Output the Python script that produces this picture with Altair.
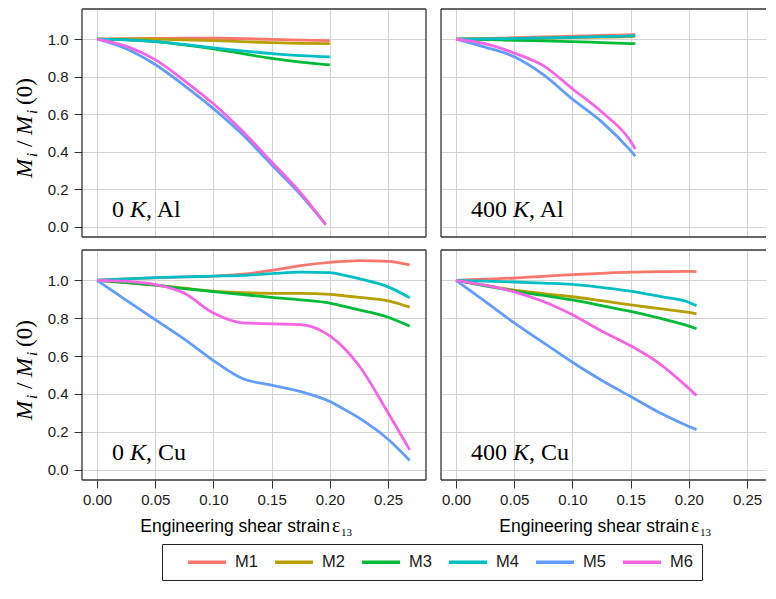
import altair as alt
import pandas as pd

SERIES = ["M1", "M2", "M3", "M4", "M5", "M6"]
COLORS = ["#F8766D", "#B79F00", "#00BA38", "#00BFC4", "#619CFF", "#F564E3"]
X_TICKS = [0.0, 0.05, 0.10, 0.15, 0.20, 0.25]
Y_TICKS = [0.0, 0.2, 0.4, 0.6, 0.8, 1.0]

# ---------------- 0 K, Al ----------------
AL0_X = [0.0, 0.025, 0.05, 0.075, 0.10, 0.125, 0.15, 0.175, 0.20]
AL0_X_M56 = [0.0, 0.025, 0.05, 0.075, 0.10, 0.125, 0.15, 0.175, 0.1965]
AL0_M1 = [1.0, 1.002, 1.003, 1.004, 1.004, 1.002, 0.998, 0.994, 0.991]
AL0_M2 = [1.0, 1.0, 0.999, 0.996, 0.992, 0.986, 0.981, 0.977, 0.975]
AL0_M3 = [1.0, 0.996, 0.986, 0.969, 0.948, 0.922, 0.897, 0.877, 0.862]
AL0_M4 = [1.0, 0.996, 0.987, 0.971, 0.953, 0.937, 0.922, 0.912, 0.905]
AL0_M5 = [1.0, 0.948, 0.864, 0.752, 0.629, 0.491, 0.330, 0.170, 0.012]
AL0_M6 = [1.0, 0.962, 0.890, 0.778, 0.655, 0.509, 0.345, 0.180, 0.010]

# ---------------- 400 K, Al ----------------
AL400_X = [0.0, 0.025, 0.05, 0.075, 0.10, 0.125, 0.15, 0.154]
AL400_M1 = [1.0, 1.003, 1.007, 1.011, 1.015, 1.019, 1.023, 1.024]
AL400_M2 = [1.0, 1.001, 1.002, 1.004, 1.007, 1.010, 1.013, 1.014]
AL400_M3 = [1.0, 0.997, 0.993, 0.990, 0.986, 0.981, 0.976, 0.975]
AL400_M4 = [1.0, 1.001, 1.003, 1.006, 1.009, 1.013, 1.017, 1.018]
AL400_M5 = [1.0, 0.957, 0.905, 0.810, 0.680, 0.560, 0.405, 0.376]
AL400_M6 = [1.0, 0.975, 0.925, 0.858, 0.735, 0.612, 0.455, 0.414]

# ---------------- 0 K, Cu ----------------
CU0_X = [0.0, 0.025, 0.05, 0.075, 0.10, 0.125, 0.15, 0.175, 0.20, 0.2125, 0.225, 0.25, 0.2686]
CU0_M1 = [1.0, 1.007, 1.013, 1.018, 1.022, 1.032, 1.052, 1.078, 1.095, 1.100, 1.104, 1.100, 1.081]
CU0_M2 = [1.0, 0.988, 0.974, 0.958, 0.943, 0.935, 0.931, 0.931, 0.926, 0.918, 0.910, 0.891, 0.858]
CU0_M3 = [1.0, 0.988, 0.974, 0.956, 0.940, 0.925, 0.910, 0.897, 0.879, 0.862, 0.844, 0.805, 0.758]
CU0_M4 = [1.0, 1.008, 1.014, 1.018, 1.022, 1.026, 1.035, 1.043, 1.040, 1.026, 1.009, 0.965, 0.908]
CU0_M5 = [1.0, 0.895, 0.792, 0.689, 0.576, 0.481, 0.446, 0.412, 0.360, 0.318, 0.273, 0.160, 0.048]
CU0_M6 = [1.0, 0.995, 0.978, 0.931, 0.827, 0.775, 0.770, 0.766, 0.706, 0.640, 0.550, 0.300, 0.104]

# ---------------- 400 K, Cu ----------------
CU400_X = [0.0, 0.025, 0.05, 0.075, 0.10, 0.125, 0.15, 0.175, 0.20, 0.2066]
CU400_M1 = [1.0, 1.006, 1.012, 1.021, 1.030, 1.037, 1.043, 1.046, 1.047, 1.046]
CU400_M2 = [1.0, 0.973, 0.948, 0.930, 0.913, 0.892, 0.870, 0.850, 0.830, 0.822]
CU400_M3 = [1.0, 0.971, 0.943, 0.920, 0.896, 0.866, 0.836, 0.800, 0.758, 0.744]
CU400_M4 = [1.0, 0.996, 0.991, 0.985, 0.978, 0.962, 0.943, 0.915, 0.884, 0.865]
CU400_M5 = [1.0, 0.888, 0.775, 0.671, 0.567, 0.472, 0.386, 0.300, 0.228, 0.211]
CU400_M6 = [1.0, 0.974, 0.939, 0.888, 0.818, 0.732, 0.654, 0.559, 0.429, 0.391]


def build(pairs):
    rows = []
    for name, xs, ys in pairs:
        for i, (xv, yv) in enumerate(zip(xs, ys)):
            rows.append({"x": xv, "y": yv, "s": name, "i": i})
    return pd.DataFrame(rows)


DF_AL0 = build([("M1", AL0_X, AL0_M1), ("M2", AL0_X, AL0_M2), ("M3", AL0_X, AL0_M3),
                ("M4", AL0_X, AL0_M4), ("M5", AL0_X_M56, AL0_M5), ("M6", AL0_X_M56, AL0_M6)])
DF_AL400 = build([("M1", AL400_X, AL400_M1), ("M2", AL400_X, AL400_M2), ("M3", AL400_X, AL400_M3),
                  ("M4", AL400_X, AL400_M4), ("M5", AL400_X, AL400_M5), ("M6", AL400_X, AL400_M6)])
DF_CU0 = build([("M1", CU0_X, CU0_M1), ("M2", CU0_X, CU0_M2), ("M3", CU0_X, CU0_M3),
                ("M4", CU0_X, CU0_M4), ("M5", CU0_X, CU0_M5), ("M6", CU0_X, CU0_M6)])
DF_CU400 = build([("M1", CU400_X, CU400_M1), ("M2", CU400_X, CU400_M2), ("M3", CU400_X, CU400_M3),
                  ("M4", CU400_X, CU400_M4), ("M5", CU400_X, CU400_M5), ("M6", CU400_X, CU400_M6)])

XDOM_L = [-0.0129, 0.2826]
XDOM_R = [-0.0129, 0.2663]
YDOM = [-0.055, 1.16]
FRAME = "#333333"
SERIF = "Liberation Serif"
SANS = "Liberation Sans"

LEG = alt.Legend(title=None, orient="none", legendX=80, legendY=535, direction="horizontal",
                 columns=6, symbolType="M1.131,0H6.505", symbolSize=200, symbolStrokeWidth=3.5,
                 labelFontSize=16.5, labelFont=SANS, labelColor="#1a1a1a", labelOffset=46,
                 columnPadding=0, padding=9, strokeColor="#222222", fillColor="white")


def txt(t, x, y, size, font=SERIF, style="normal", align="left", angle=0):
    kw = dict(align=align, baseline="alphabetic", font=font, fontSize=size,
              fontStyle=style, color="black")
    if angle:
        kw["angle"] = angle
    return alt.Chart(pd.DataFrame({"t": [t]})).mark_text(**kw).encode(
        text="t:N", x=alt.value(x), y=alt.value(y))


def rule(x1, y1, x2, y2):
    return alt.Chart(pd.DataFrame({"a": [0]})).mark_rule(color=FRAME, strokeWidth=1.3).encode(
        x=alt.value(x1), y=alt.value(y1), x2=alt.value(x2), y2=alt.value(y2))


def panel(df, W, H, xdom, left, bottom, num, mat, open_right=False):
    x_axis = alt.Axis(values=X_TICKS, format=".2f", labels=bottom, ticks=bottom, domain=False,
                      grid=True, title=None, labelPadding=4)
    y_axis = alt.Axis(values=Y_TICKS, format=".1f", labels=left, ticks=left, domain=False,
                      grid=True, title=None, labelPadding=6)
    lines = alt.Chart(df).mark_line(strokeWidth=2.8, interpolate="monotone", clip=True).encode(
        x=alt.X("x:Q", scale=alt.Scale(domain=xdom, nice=False, zero=False), axis=x_axis),
        y=alt.Y("y:Q", scale=alt.Scale(domain=YDOM, nice=False, zero=False), axis=y_axis),
        color=alt.Color("s:N", scale=alt.Scale(domain=SERIES, range=COLORS), legend=LEG),
        order="i:Q",
    )
    layers = [lines]
    # panel label
    base_y = H - 20
    layers.append(txt(num, 30, base_y, 24))
    kx = 30 + (12 if num == "0" else 36) + 6
    layers.append(txt("K", kx, base_y, 24, style="italic"))
    layers.append(txt(", " + mat, kx + 16, base_y, 24))
    # frame
    layers.append(rule(0, 0, W, 0))
    layers.append(rule(0, H, W, H))
    layers.append(rule(0, 0, 0, H))
    if not open_right:
        layers.append(rule(W, 0, W, H))
    if left:
        ys = H / 2 + 55
        bx = -50
        layers.append(txt("M", bx, ys, 23, style="italic", angle=270))
        layers.append(txt("i", bx + 5, ys - 21, 15, style="italic", angle=270))
        layers.append(txt("/", bx, ys - 31, 23, angle=270))
        layers.append(txt("M", bx, ys - 43, 23, style="italic", angle=270))
        layers.append(txt("i", bx + 5, ys - 64, 15, style="italic", angle=270))
        layers.append(txt("(0)", bx, ys - 73, 23, angle=270))
    if bottom:
        ty = H + 52
        layers.append(txt("Engineering shear strain", 248, ty, 17.5, font=SANS, align="right"))
        layers.append(txt("\u03b5", 250, ty, 20))
        layers.append(txt("13", 259, ty + 4, 11))
    return alt.layer(*layers).properties(width=W, height=H)


p_al0 = panel(DF_AL0, 344, 228, XDOM_L, True, False, "0", "Al")
p_al400 = panel(DF_AL400, 325, 228, XDOM_R, False, False, "400", "Al", open_right=True)
p_cu0 = panel(DF_CU0, 344, 230, XDOM_L, True, True, "0", "Cu")
p_cu400 = panel(DF_CU400, 325, 230, XDOM_R, False, True, "400", "Cu", open_right=True)

chart = alt.vconcat(
    alt.hconcat(p_al0, p_al400, spacing=13),
    alt.hconcat(p_cu0, p_cu400, spacing=13),
    spacing=11,
).properties(
    padding={"left": 6, "top": 0, "right": 0, "bottom": 0}
).configure_view(stroke=None).configure_axis(
    gridColor="#d3d3d3", gridWidth=1, tickColor=FRAME, tickSize=8, tickWidth=1,
    labelFont=SANS, labelFontSize=15, labelColor="#1a1a1a",
)

chart.save("out.html", embed_options={"renderer": "svg", "actions": False})
